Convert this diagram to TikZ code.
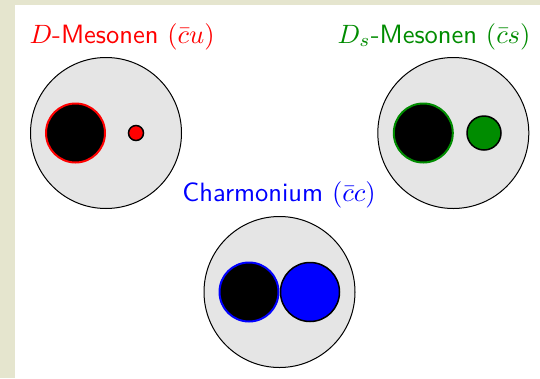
\documentclass[tikz,border=0pt]{standalone}
\begin{document}
\begin{tikzpicture}[x=1pt,y=-1pt,
  outer/.style={circle,draw=black,fill=black!10,line width=1pt,minimum size=151pt,inner sep=0pt},
  quark/.style={circle,fill=black,line width=2pt,minimum size=#1,inner sep=0pt},
  lbl/.style={font=\normalsize\sffamily,inner sep=0pt,scale=2.65,transform shape}]
\definecolor{bgbeige}{RGB}{229,229,206}
\definecolor{dsgreen}{RGB}{0,140,0}
\fill[bgbeige] (0,0) rectangle (540,378);
\fill[white] (15,5) rectangle (540,378);
\useasboundingbox (0,0) rectangle (540,378);
% D mesons
\node[outer] (dc) at (106,133) {};
\node[quark=59pt,draw=red] (dq1) at (75.5,133) {};
\node[circle,draw=black,fill=red,line width=1.5pt,minimum size=15pt,inner sep=0pt] (dq2) at (136,133) {};
\node[lbl,text=red,anchor=base west] (dl) at (29,43) {$D$-Mesonen $(\bar c u)$};
% Ds mesons
\node[outer] (sc) at (453.3,133) {};
\node[quark=59pt,draw=dsgreen] (sq1) at (423.3,133) {};
\node[circle,draw=black,fill=dsgreen,line width=1.5pt,minimum size=34pt,inner sep=0pt] (sq2) at (484,133) {};
\node[lbl,text=dsgreen,anchor=base east] (sl) at (531,43) {$D_s$-Mesonen $(\bar c s)$};
% Charmonium
\node[outer] (cc) at (279.5,292) {};
\node[quark=59pt,draw=blue] (cq1) at (249,292) {};
\node[circle,draw=black,fill=blue,line width=1.5pt,minimum size=59pt,inner sep=0pt] (cq2) at (310,292) {};
\node[lbl,text=blue,anchor=base] (cl) at (279,201) {Charmonium $(\bar c c)$};
\end{tikzpicture}
\end{document}
